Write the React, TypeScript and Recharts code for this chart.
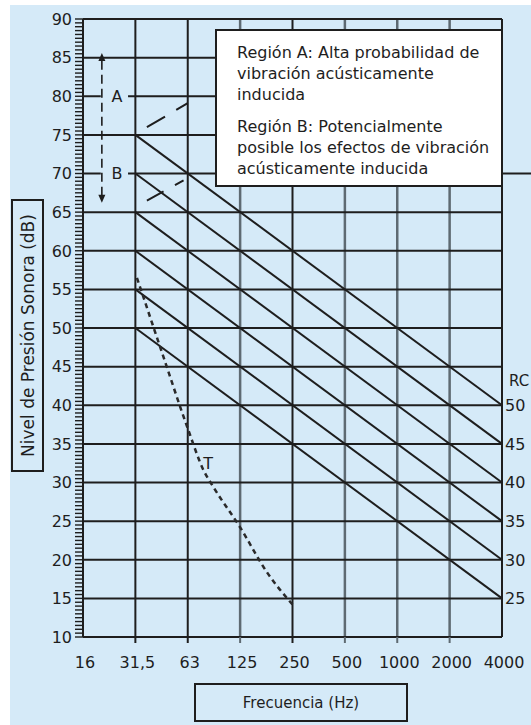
import React from 'react';
import { ComposedChart, Line, XAxis, YAxis, ReferenceLine, Scatter } from 'recharts';

// ---------- data ----------
const freqLabels = ['16', '31,5', '63', '125', '250', '500', '1000', '2000', '4000'];
const freqIndex = [0, 1, 2, 3, 4, 5, 6, 7, 8];
const darkVerticals = [1, 2, 4];
const grayVerticals = [3, 5, 6, 7];

const hGridFull = [15, 20, 25, 30, 35, 40, 45, 50, 55, 60, 65, 75, 85];
const hGridSplit = [80, 70];

const rcNumbers = [50, 45, 40, 35, 30, 25];
const rcLevelAt31 = [75, 70, 65, 60, 55, 50];
const rcLevelAt4000 = [40, 35, 30, 25, 20, 15];

const tCurveX = [1.03, 1.5, 2.0, 2.3, 2.5, 3.0, 3.5, 4.0];
const tCurveY = [56.5, 47, 37, 31.6, 29.3, 24.2, 18.5, 14.2];

const regionAX = [1.22, 2.0];
const regionAY = [76, 79.1];
const regionBX = [1.22, 1.92];
const regionBY = [66.5, 69.1];

const arrowX = 0.36;
const arrowY = [85.6, 66.2];

const regionLabels = [
  { x: 0.65, y: 80, label: 'A' },
  { x: 0.65, y: 70, label: 'B' },
  { x: 2.39, y: 32.5, label: 'T' },
];

const legendLines = [
  'Región A: Alta probabilidad de',
  'vibración acústicamente',
  'inducida',
  'Región B: Potencialmente',
  'posible los efectos de vibración',
  'acústicamente inducida',
];

// ---------- derived ----------
const minorTicks: number[] = [];
for (let v = 10; v <= 90.001; v += 0.5) minorTicks.push(Math.round(v * 10) / 10);

const rcSeries = rcNumbers.map((rc, i) => ({
  rc,
  data: [
    { x: 1, y: rcLevelAt31[i] },
    { x: 8, y: rcLevelAt4000[i] },
  ],
}));
const rcLabelData = [
  { x: 8, y: 43.3, label: 'RC', small: true },
  ...rcNumbers.map((rc, i) => ({ x: 8, y: rcLevelAt4000[i], label: String(rc), small: false })),
];
const tData = tCurveX.map((x, i) => ({ x, y: tCurveY[i] }));
const aData = regionAX.map((x, i) => ({ x, y: regionAY[i] }));
const bData = regionBX.map((x, i) => ({ x, y: regionBY[i] }));
const arrowData = [
  { x: arrowX, y: arrowY[0], dir: -1 },
  { x: arrowX, y: arrowY[1], dir: 1 },
];

const FONT = '"DejaVu Sans", sans-serif';
const INK = '#1e1e1e';
const GRAY = '#5e6a72';
const BG = '#d5eaf8';

const YTick = (props: any) => {
  const { x, y, payload } = props;
  const v = payload.value as number;
  const major = Math.abs(v % 5) < 1e-6;
  return (
    <g>
      <line x1={x + 3} x2={x + 11} y1={y} y2={y} stroke={INK} strokeWidth={1.4} />
      {major && (
        <text x={x} y={y} dy={5.8} textAnchor="end" fontFamily={FONT} fontSize={16} fill={INK}>
          {v}
        </text>
      )}
    </g>
  );
};

const XTick = (props: any) => {
  const { x, y, payload } = props;
  const v = payload.value as number;
  const col = grayVerticals.includes(v) ? GRAY : INK;
  return (
    <g>
      {v > 0 && v < 8 && <line x1={x} x2={x} y1={y - 6} y2={y} stroke={col} strokeWidth={2} />}
      <text x={x + 2} y={y + 25} textAnchor="middle" fontFamily={FONT} fontSize={16} fill={INK}>
        {freqLabels[v]}
      </text>
    </g>
  );
};

const TextShape = (props: any) => {
  const { cx, cy, payload } = props;
  return (
    <text x={cx} y={cy} dy={5.8} textAnchor="middle" fontFamily={FONT} fontSize={16} fill={INK}>
      {payload.label}
    </text>
  );
};

const RcLabelShape = (props: any) => {
  const { cx, cy, payload } = props;
  return (
    <text
      x={cx + (payload.small ? 7 : 3)}
      y={cy}
      dy={5.8}
      textAnchor="start"
      fontFamily={FONT}
      fontSize={payload.small ? 15 : 16}
      fill={INK}
    >
      {payload.label}
    </text>
  );
};

const ArrowShape = (props: any) => {
  const { cx, cy, payload } = props;
  const d = payload.dir as number;
  return (
    <polygon
      points={`${cx},${cy} ${cx - 3.5},${cy - d * 8} ${cx + 3.5},${cy - d * 8}`}
      fill={INK}
    />
  );
};

export default function App() {
  return (
    <div style={{ position: 'absolute', left: 0, top: 0, width: 531, height: 725, background: '#fff' }}>
      <div style={{ position: 'absolute', left: 10, top: 5, width: 521, height: 720, background: BG }} />
      <div style={{ position: 'absolute', left: 0, top: 0 }}>
        <ComposedChart
          width={531}
          height={725}
          margin={{ top: 19, right: 29, bottom: 48, left: 10 }}
        >
          <XAxis
            type="number"
            dataKey="x"
            domain={[0, 8]}
            ticks={freqIndex}
            interval={0}
            tickSize={6}
            tickMargin={0}
            tickLine={false}
            tick={<XTick />}
            height={40}
            axisLine={{ stroke: INK, strokeWidth: 2 }}
          />
          <YAxis
            type="number"
            dataKey="y"
            domain={[10, 90]}
            ticks={minorTicks}
            interval={0}
            tickSize={8}
            tickMargin={3}
            tickLine={false}
            tick={<YTick />}
            width={73}
            axisLine={{ stroke: INK, strokeWidth: 2 }}
          />

          {grayVerticals.map((v) => (
            <ReferenceLine key={'gv' + v} x={v} stroke={GRAY} strokeWidth={2.5} />
          ))}
          {darkVerticals.map((v) => (
            <ReferenceLine key={'dv' + v} x={v} stroke={INK} strokeWidth={2} />
          ))}
          <ReferenceLine x={8} stroke={INK} strokeWidth={2} />

          {hGridFull.map((v) => (
            <ReferenceLine key={'h' + v} y={v} stroke={INK} strokeWidth={2} />
          ))}
          {hGridSplit.map((v) => (
            <ReferenceLine
              key={'hs1' + v}
              segment={[{ x: 0, y: v }, { x: 0.34, y: v }]}
              stroke={INK}
              strokeWidth={2}
            />
          ))}
          {hGridSplit.map((v) => (
            <ReferenceLine
              key={'hs2' + v}
              segment={[{ x: 0.86, y: v }, { x: v === 70 ? 8.56 : 8, y: v }]}
              stroke={INK}
              strokeWidth={2}
              ifOverflow="visible"
            />
          ))}
          <ReferenceLine y={90} stroke={INK} strokeWidth={2} />

          <ReferenceLine
            segment={[{ x: arrowX, y: arrowY[0] - 1 }, { x: arrowX, y: arrowY[1] + 1 }]}
            stroke={INK}
            strokeWidth={1.6}
            strokeDasharray="9 5"
          />

          {rcSeries.map((s) => (
            <Line
              key={'rc' + s.rc}
              data={s.data}
              dataKey="y"
              type="linear"
              stroke={INK}
              strokeWidth={2}
              dot={false}
              activeDot={false}
              isAnimationActive={false}
            />
          ))}
          <Line
            data={aData}
            dataKey="y"
            type="linear"
            stroke={INK}
            strokeWidth={2}
            strokeDasharray="21 13"
            dot={false}
            activeDot={false}
            isAnimationActive={false}
          />
          <Line
            data={bData}
            dataKey="y"
            type="linear"
            stroke={INK}
            strokeWidth={2}
            strokeDasharray="19 13"
            dot={false}
            activeDot={false}
            isAnimationActive={false}
          />
          <Line
            data={tData}
            dataKey="y"
            type="monotone"
            stroke="#2a2a2a"
            strokeWidth={2.5}
            strokeDasharray="5 4"
            dot={false}
            activeDot={false}
            isAnimationActive={false}
          />

          <Scatter data={arrowData} shape={<ArrowShape />} isAnimationActive={false} />
          <Scatter data={regionLabels} shape={<TextShape />} isAnimationActive={false} />
          <Scatter data={rcLabelData} shape={<RcLabelShape />} isAnimationActive={false} />
        </ComposedChart>
      </div>

      {/* legend box */}
      <svg style={{ position: 'absolute', left: 215, top: 29 }} width={288} height={158}>
        <rect x={1} y={1} width={286} height={156} fill="#fff" stroke={INK} strokeWidth={2} />
        {legendLines.map((t, i) => (
          <text
            key={i}
            x={22}
            y={[29, 50, 71, 103, 124, 145][i]}
            fontFamily={FONT}
            fontSize={16}
            fill={INK}
          >
            {t}
          </text>
        ))}
      </svg>

      {/* y axis title box */}
      <svg style={{ position: 'absolute', left: 11, top: 199 }} width={33} height={273}>
        <rect x={1} y={1} width={31} height={271} fill="none" stroke={INK} strokeWidth={2} />
        <text
          x={16.5}
          y={136.5}
          transform="rotate(-90 16.5 136.5)"
          textAnchor="middle"
          dominantBaseline="central"
          fontFamily={FONT}
          fontSize={17}
          fill={INK}
        >
          Nivel de Presión Sonora (dB)
        </text>
      </svg>

      {/* x axis title box */}
      <svg style={{ position: 'absolute', left: 194, top: 683 }} width={214} height={39}>
        <rect x={1} y={1} width={212} height={37} fill="none" stroke={INK} strokeWidth={2} />
        <text
          x={107}
          y={19.5}
          textAnchor="middle"
          dominantBaseline="central"
          fontFamily={FONT}
          fontSize={15}
          fill={INK}
        >
          Frecuencia (Hz)
        </text>
      </svg>
    </div>
  );
}
